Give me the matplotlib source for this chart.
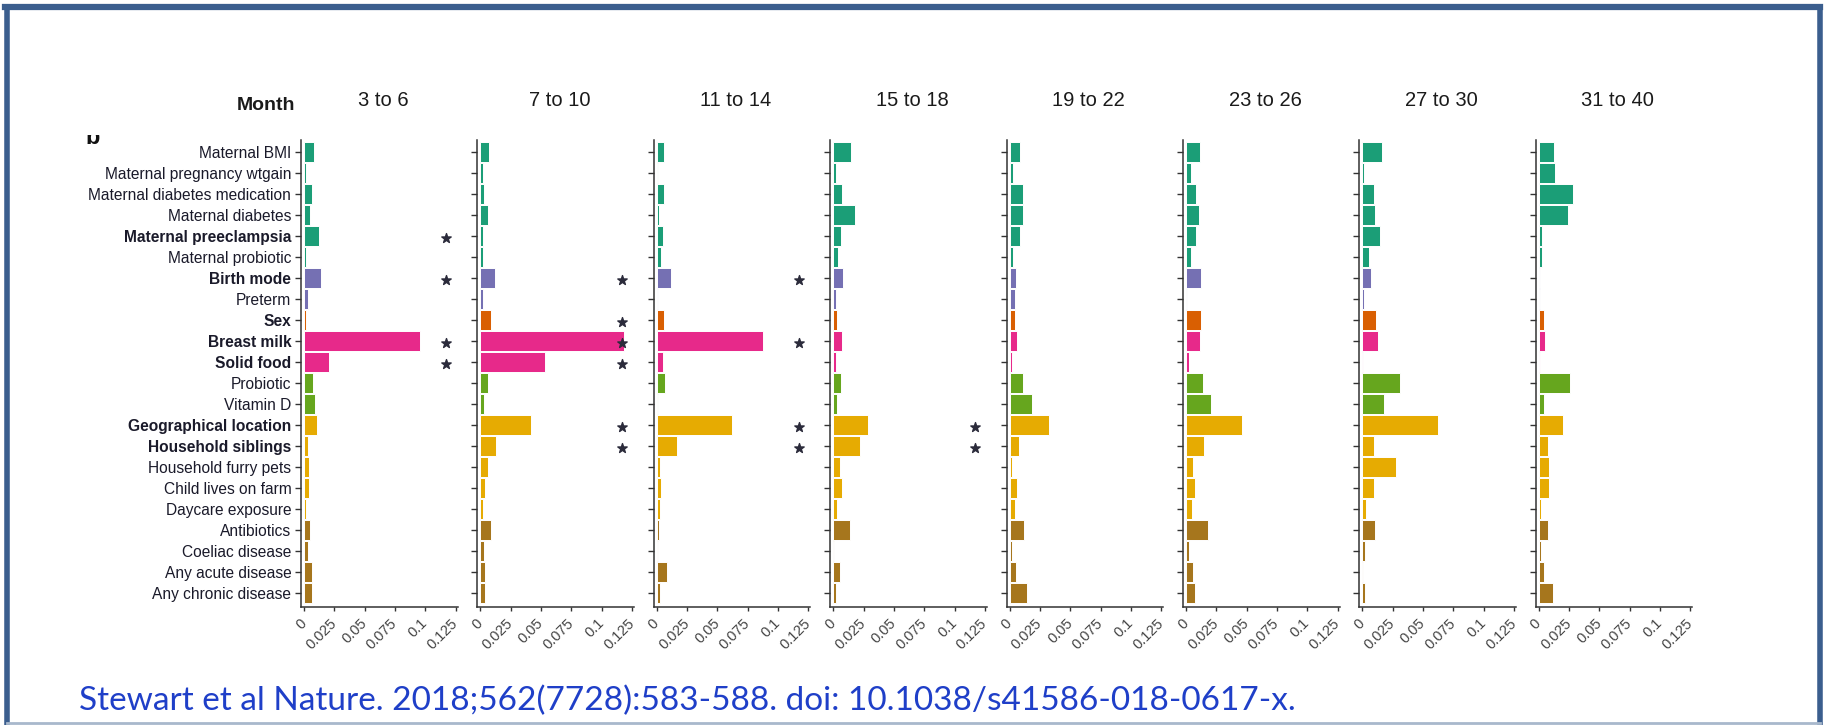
import numpy as np
import matplotlib
matplotlib.use("Agg")
import matplotlib.pyplot as plt
from matplotlib.lines import Line2D
from matplotlib.patches import Rectangle

# Facteurs (de haut en bas) et groupe de couleur
facteurs = ["Maternal BMI", "Maternal pregnancy wtgain", "Maternal diabetes medication",
            "Maternal diabetes", "Maternal preeclampsia", "Maternal probiotic",
            "Birth mode", "Preterm", "Sex", "Breast milk", "Solid food",
            "Probiotic", "Vitamin D", "Geographical location", "Household siblings",
            "Household furry pets", "Child lives on farm", "Daycare exposure",
            "Antibiotics", "Coeliac disease", "Any acute disease", "Any chronic disease"]
groupes = ["mat"] * 6 + ["birth"] * 2 + ["sex"] + ["milk"] * 2 + ["supp"] * 2 + ["env"] * 5 + ["dis"] * 4
couleurs_groupes = {"mat": "#1B9E77", "birth": "#7570B3", "sex": "#D95F02", "milk": "#E7298A",
                    "supp": "#66A61E", "env": "#E6AB02", "dis": "#A6761D"}

fenetres = ["3 to 6", "7 to 10", "11 to 14", "15 to 18", "19 to 22", "23 to 26", "27 to 30", "31 to 40"]

# Variance expliquee par facteur, une liste par fenetre (mois)
m3_6 = [0.0082, 0.0019, 0.0062, 0.0052, 0.0125, 0.0019, 0.0136, 0.0030, 0.0016, 0.0957, 0.0209,
        0.0071, 0.0092, 0.0103, 0.0030, 0.0041, 0.0041, 0.0019, 0.0052, 0.0030, 0.0062, 0.0062]
m7_10 = [0.0073, 0.0019, 0.0033, 0.0063, 0.0019, 0.0019, 0.0117, 0.0019, 0.0084, 0.1180, 0.0533,
         0.0063, 0.0033, 0.0416, 0.0128, 0.0063, 0.0041, 0.0019, 0.0084, 0.0033, 0.0041, 0.0041]
m11_14 = [0.0060, 0.0011, 0.0060, 0.0016, 0.0049, 0.0038, 0.0114, 0.0011, 0.0060, 0.0872, 0.0049,
          0.0071, 0.0011, 0.0617, 0.0168, 0.0027, 0.0038, 0.0027, 0.0016, 0.0008, 0.0082, 0.0027]
m15_18 = [0.0149, 0.0022, 0.0073, 0.0182, 0.0063, 0.0041, 0.0084, 0.0022, 0.0030, 0.0073, 0.0019,
          0.0063, 0.0030, 0.0285, 0.0223, 0.0052, 0.0073, 0.0030, 0.0139, 0.0008, 0.0052, 0.0019]
m19_22 = [0.0085, 0.0030, 0.0107, 0.0107, 0.0085, 0.0030, 0.0052, 0.0041, 0.0041, 0.0063, 0.0019,
          0.0107, 0.0181, 0.0321, 0.0074, 0.0019, 0.0063, 0.0041, 0.0118, 0.0019, 0.0052, 0.0140]
m23_26 = [0.0115, 0.0038, 0.0082, 0.0104, 0.0082, 0.0038, 0.0126, 0.0011, 0.0126, 0.0115, 0.0027,
          0.0137, 0.0203, 0.0462, 0.0148, 0.0060, 0.0071, 0.0049, 0.0181, 0.0027, 0.0060, 0.0071]
m27_30 = [0.0159, 0.0016, 0.0093, 0.0104, 0.0148, 0.0052, 0.0071, 0.0016, 0.0115, 0.0126, 0.0008,
          0.0310, 0.0181, 0.0624, 0.0093, 0.0277, 0.0093, 0.0030, 0.0104, 0.0019, 0.0005, 0.0019]
m31_40 = [0.0125, 0.0136, 0.0285, 0.0242, 0.0030, 0.0030, 0.0008, 0.0008, 0.0041, 0.0052, 0.0011,
          0.0253, 0.0041, 0.0201, 0.0073, 0.0084, 0.0084, 0.0019, 0.0073, 0.0019, 0.0041, 0.0114]
valeurs = [m3_6, m7_10, m11_14, m15_18, m19_22, m23_26, m27_30, m31_40]

# Facteurs significatifs (etoiles)
sig_3_6 = ["Maternal preeclampsia", "Birth mode", "Breast milk", "Solid food"]
sig_7_10 = ["Birth mode", "Sex", "Breast milk", "Solid food", "Geographical location", "Household siblings"]
sig_11_14 = ["Birth mode", "Breast milk", "Geographical location", "Household siblings"]
sig_15_18 = ["Geographical location", "Household siblings"]
significatifs = [sig_3_6, sig_7_10, sig_11_14, sig_15_18, [], [], [], []]
en_gras = set(sig_3_6 + sig_7_10 + sig_11_14 + sig_15_18)

x_ticks = [0, 0.025, 0.05, 0.075, 0.1, 0.125]
x_labels = ["0", "0.025", "0.05", "0.075", "0.1", "0.125"]

W, H = 1825, 725
fig = plt.figure(figsize=(W / 100, H / 100), dpi=100)
fig.patch.set_facecolor("white")

y = np.arange(len(facteurs))
cols = [couleurs_groupes[g] for g in groupes]
gris = "#333333"

for i, (nom, vals) in enumerate(zip(fenetres, valeurs)):
    gauche = 301 + 176.4 * i
    ax = fig.add_axes([gauche / W, 1 - 607 / H, 156.5 / W, 467 / H])
    ax.barh(y, vals, height=0.97, color=cols, edgecolor="white", linewidth=0.7)
    for f in significatifs[i]:
        ax.scatter(0.117, facteurs.index(f) + 0.1, marker="*", s=50, color="#2b2b3b", zorder=5, clip_on=False)
    ax.set_xlim(-0.0025, 0.1265)
    ax.set_ylim(21.67, -0.57)
    for s in ["top", "right"]:
        ax.spines[s].set_visible(False)
    for s in ["left", "bottom"]:
        ax.spines[s].set_color(gris)
        ax.spines[s].set_linewidth(1.1)
    ax.set_yticks(y)
    ax.set_xticks(x_ticks)
    ax.set_xticklabels(x_labels, rotation=45, ha="right", va="center", rotation_mode="anchor",
                       fontsize=10.5, color="#444444", family="Liberation Sans")
    ax.tick_params(axis="x", length=3, width=1.0, color=gris, pad=7)
    ax.tick_params(axis="y", length=4, width=1.0, color=gris, pad=3)
    if i == 0:
        ax.set_yticklabels(facteurs, fontsize=11.2, color="#1a1a2a", family="Liberation Sans")
        for lab in ax.get_yticklabels():
            if lab.get_text() in en_gras:
                lab.set_fontweight("bold")
    else:
        ax.set_yticklabels([])
    fig.text((gauche + 82) / W, 1 - 101 / H, nom, ha="center", va="center",
             fontsize=14.5, color="#1a1a1a", family="Liberation Sans")

fig.text(266 / W, 1 - 106 / H, "Month", ha="center", va="center", fontsize=14,
         fontweight="bold", color="#1a1a1a", family="Liberation Sans")

# Lettre de panneau coupee en haut
fig.text(93 / W, 1 - 144 / H, "b", ha="center", va="baseline", fontsize=17,
         fontweight="bold", color="#111111", family="Liberation Sans")
fig.add_artist(Rectangle((80 / W, 1 - 135 / H), 30 / W, 20 / H, transform=fig.transFigure,
                         facecolor="white", edgecolor="none", zorder=10))

fig.text(79 / W, 1 - 701 / H, "Stewart et al Nature. 2018;562(7728):583-588. doi: 10.1038/s41586-018-0617-x.",
         ha="left", va="center", fontsize=24, color="#1F3FC8", family="Lato")

# Cadre bleu
bleu = "#3B5E8E"
fig.add_artist(Line2D([5 / W, 1820 / W], [1 - 7 / H, 1 - 7 / H], transform=fig.transFigure, color=bleu, lw=4.5))
fig.add_artist(Line2D([7.5 / W, 7.5 / W], [0, 1 - 7 / H], transform=fig.transFigure, color=bleu, lw=4))
fig.add_artist(Line2D([1820 / W, 1820 / W], [0, 1 - 7 / H], transform=fig.transFigure, color=bleu, lw=4))
fig.add_artist(Line2D([7.5 / W, 1820 / W], [2.5 / H, 2.5 / H], transform=fig.transFigure, color="#A8B8CC", lw=2))

fig.savefig("out.png", dpi=100, facecolor="white")
